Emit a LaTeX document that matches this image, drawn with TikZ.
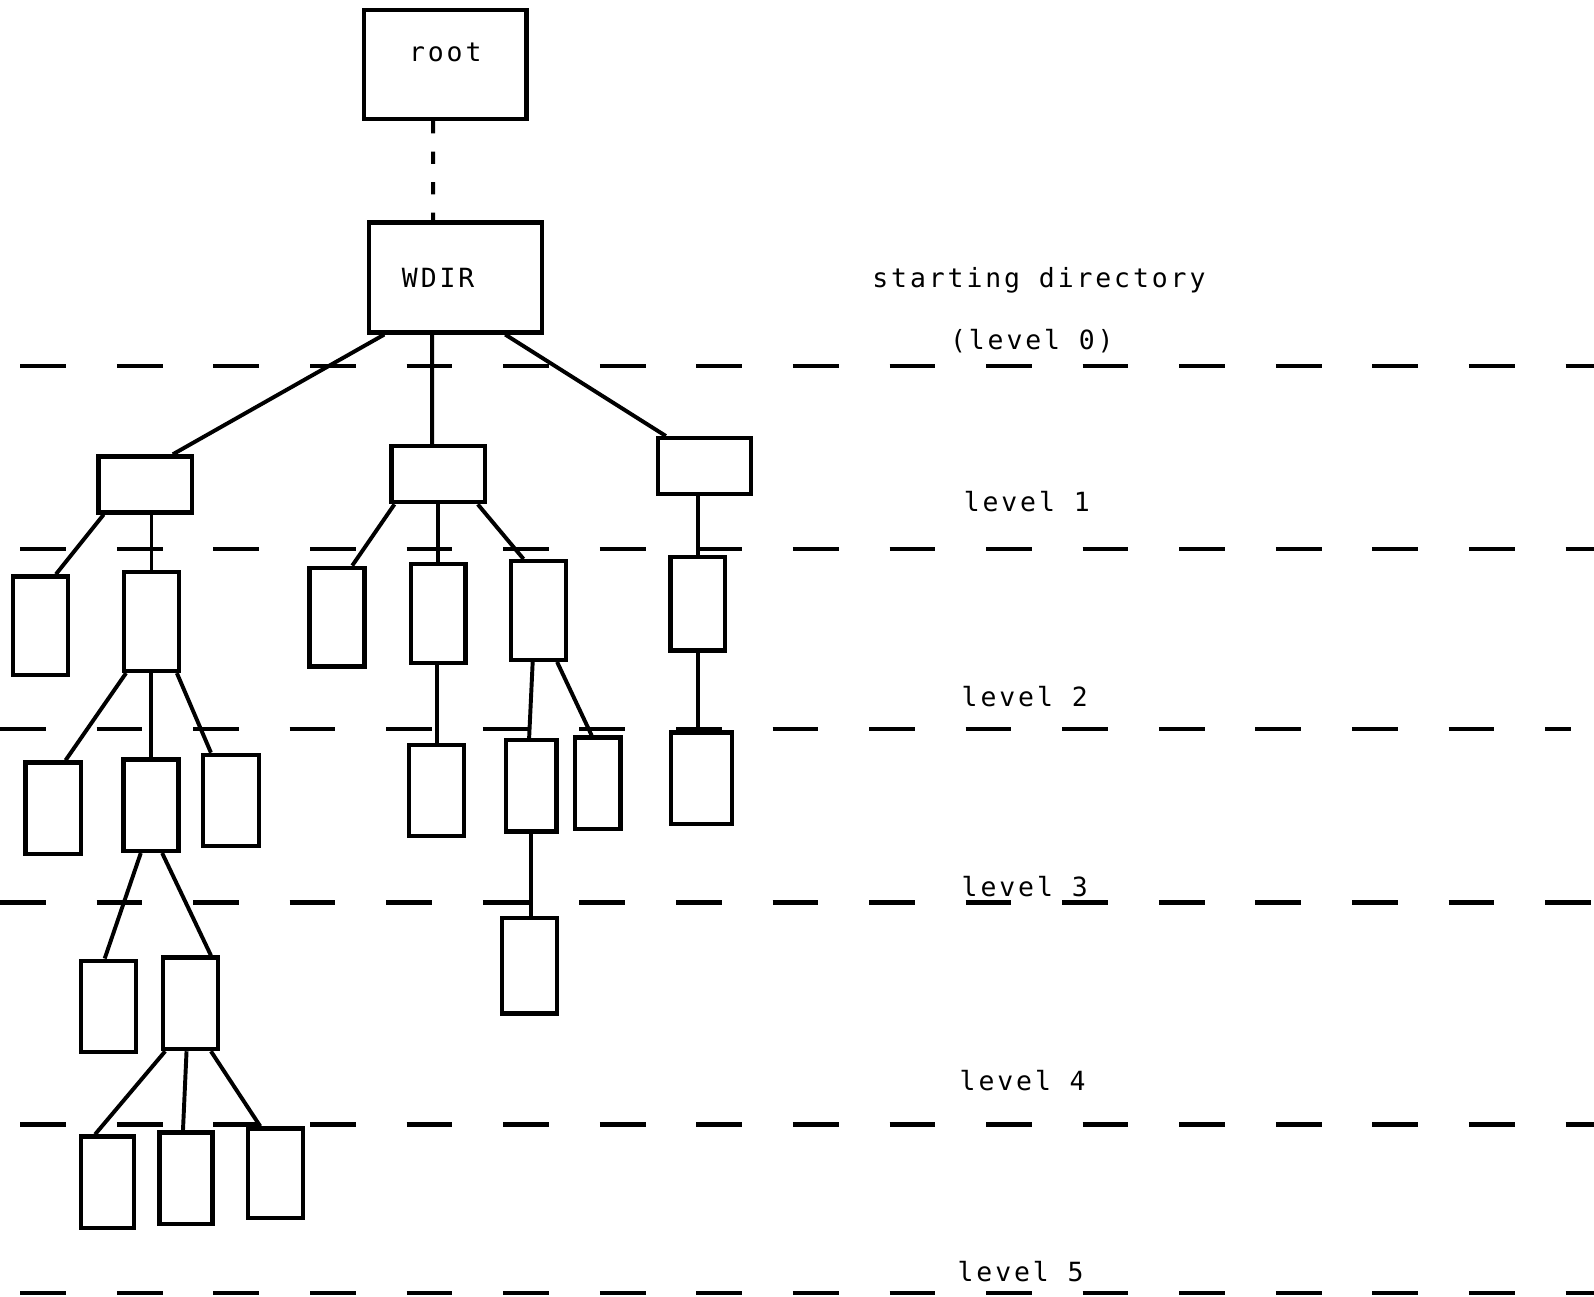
\documentclass[tikz,border=0pt]{standalone}
\usepackage{fontspec}
\setmonofont[LetterSpace=11]{DejaVu Sans Mono}

\begin{document}
\begin{tikzpicture}[
		x=0.1mm, y=-0.1mm,
		font=\ttfamily\fontsize{7.4}{9}\selectfont,
		% --- BOX STYLES ---
		topbox/.style = {draw, rectangle, line width=1.2pt, minimum width=16mm, minimum height=10.7mm, inner sep=0pt},
		midbox/.style = {draw, rectangle, line width=1.2pt, minimum width=9.2mm, minimum height=5.5mm, inner sep=0pt},
		leafbox/.style = {draw, rectangle, line width=1.2pt, minimum width=5.4mm, minimum height=9mm, inner sep=0pt},
		tallbox/.style = {leafbox, minimum height=9.7mm},
		% --- LINES AND TEXTS ---
		link/.style = {line width=1.1pt},
		uplink/.style = {line width=1.1pt, dash pattern=on 1.2mm off 1.8mm},
		levelline/.style = {line width=1.3pt, dash pattern=on 4.5mm off 5mm},
		levelnote/.style = {anchor=base, inner sep=0pt}
		]
		
		\useasboundingbox (0,0) rectangle (1568,1275);
		
		% =========================================================================
		% 1. ROOT AND STARTING DIRECTORY
		% =========================================================================
		\node [topbox] (root) at (438,63.5) {\raisebox{2.4mm}{root}};
		\node [topbox, minimum width=17mm, minimum height=10.8mm] (wdir) at (448,273) {\hspace*{-3.4mm}WDIR};
		
		% =========================================================================
		% 2. DIRECTORY BOXES, LEVEL BY LEVEL
		% =========================================================================
		% Level 1
		\node [midbox] (dA) at (143,476.5) {};
		\node [midbox] (dB) at (431,466.5) {};
		\node [midbox] (dC) at (693,458.5) {};
		
		% Level 2
		\node [tallbox] (dA1) at (40,615.5) {};
		\node [tallbox] (dA2) at (149,611.5) {};
		\node [tallbox] (dB1) at (331.5,607) {};
		\node [tallbox] (dB2) at (431,603.5) {};
		\node [tallbox] (dB3) at (530,600.5) {};
		\node [leafbox, minimum height=9.2mm] (dC1) at (686.5,594) {};
		
		% Level 3
		\node [leafbox, minimum width=5.5mm] (dA21) at (52.5,795) {};
		\node [leafbox] (dA22) at (148.5,792) {};
		\node [leafbox, minimum width=5.5mm] (dA23) at (227.5,787.5) {};
		\node [leafbox] (dB21) at (429.5,777.5) {};
		\node [leafbox, minimum width=5mm] (dB31) at (522.5,773) {};
		\node [leafbox, minimum width=4.5mm] (dB32) at (588,770.5) {};
		\node [leafbox, minimum width=6mm] (dC11) at (690,765.5) {};
		
		% Level 4
		\node [leafbox] (dA221) at (107,990) {};
		\node [leafbox] (dA222) at (187.5,987) {};
		\node [leafbox, minimum height=9.4mm] (dB311) at (521,950) {};
		
		% Level 5
		\node [leafbox, minimum width=5.2mm] (dA2221) at (105.5,1163) {};
		\node [leafbox, minimum width=5.2mm] (dA2222) at (183,1159) {};
		\node [leafbox, minimum height=8.8mm] (dA2223) at (271,1154) {};
		
		% =========================================================================
		% 3. CONNECTORS
		% =========================================================================
		\draw [uplink] ([xshift=-1.2mm]root.south) -- ([xshift=-2.2mm]wdir.north);
		
		\draw [link] ([xshift=-7mm]wdir.south) -- ([xshift=2.7mm]dA.north);
		\draw [link] ([xshift=-2.3mm]wdir.south) -- ([xshift=-0.6mm]dB.north);
		\draw [link] ([xshift=4.9mm]wdir.south) -- ([xshift=-3.8mm]dC.north);
		
		\draw [link] ([xshift=-4.1mm]dA.south) -- ([xshift=1.5mm]dA1.north);
		\draw [link] (dA.south -| dA2.north) -- (dA2.north);
		\draw [link] ([xshift=-4.3mm]dB.south) -- ([xshift=1.5mm]dB1.north);
		\draw [link] (dB.south) -- (dB2.north);
		\draw [link] ([xshift=3.9mm]dB.south) -- ([xshift=-1.5mm]dB3.north);
		\draw [link] (dC.south -| dC1.north) -- (dC1.north);
		
		\draw [link] ([xshift=-2.5mm]dA2.south) -- ([xshift=1.2mm]dA21.north);
		\draw [link] (dA2.south -| dA22.north) -- (dA22.north);
		\draw [link] ([xshift=2.5mm]dA2.south) -- ([xshift=-2mm]dA23.north);
		\draw [link] (dB2.south -| dB21.north) -- (dB21.north);
		\draw [link] ([xshift=-0.6mm]dB3.south) -- ([xshift=-0.2mm]dB31.north);
		\draw [link] ([xshift=1.8mm]dB3.south) -- ([xshift=-0.6mm]dB32.north);
		\draw [link] (dC1.south) -- (dC11.north -| dC1.south);
		
		\draw [link] ([xshift=-1mm]dA22.south) -- ([xshift=-0.4mm]dA221.north);
		\draw [link] ([xshift=1.1mm]dA22.south) -- ([xshift=2mm]dA222.north);
		\draw [link] (dB31.south) -- (dB311.north -| dB31.south);
		
		\draw [link] ([xshift=-2.5mm]dA222.south) -- ([xshift=-1.2mm]dA2221.north);
		\draw [link] ([xshift=-0.4mm]dA222.south) -- ([xshift=-0.3mm]dA2222.north);
		\draw [link] ([xshift=2mm]dA222.south) -- ([xshift=-1.5mm]dA2223.north);
		
		% =========================================================================
		% 4. LEVEL LINES AND NOTES
		% =========================================================================
		\draw [levelline] (20,360) -- (1568,360);
		\draw [levelline] (20,540) -- (1568,540);
		\draw [levelline] (0,717) -- (1545,717);
		\draw [levelline] (0,888) -- (1568,888);
		\draw [levelline] (20,1106) -- (1568,1106);
		\draw [levelline] (20,1272) -- (1568,1272);
		
		\node [levelnote] (start) at (1022,283) {starting directory};
		\node [levelnote] (lvl0) at (1015,344) {(level 0)};
		\node [levelnote] (lvl1) at (1010,503) {level 1};
		\node [levelnote] (lvl2) at (1008,695) {level 2};
		\node [levelnote] (lvl3) at (1008,882) {level 3};
		\node [levelnote] (lvl4) at (1006,1073) {level 4};
		\node [levelnote] (lvl5) at (1004,1261) {level 5};
		
	\end{tikzpicture}
\end{document}
